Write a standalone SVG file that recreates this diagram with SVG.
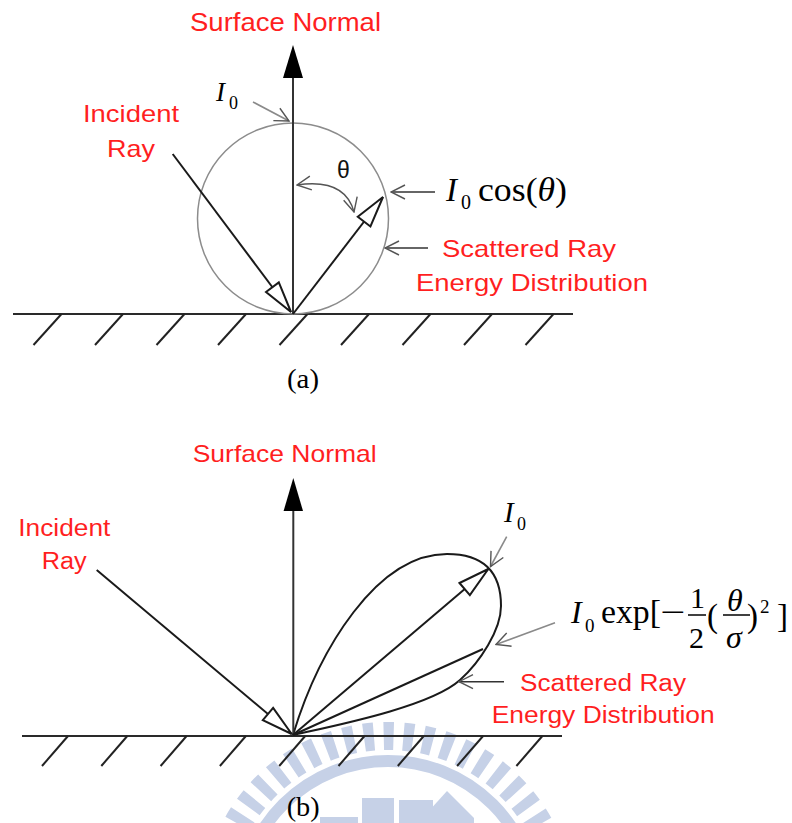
<svg xmlns="http://www.w3.org/2000/svg" width="792" height="823" viewBox="0 0 792 823">
<style>
.lbl{font-family:"Liberation Sans",Arial,sans-serif;fill:#ff1f1f}
.math{font-family:"Liberation Serif","Times New Roman",serif;fill:#000}
.it{font-style:italic}
.ray{stroke:#1a1a1a;stroke-width:2;fill:none}
.norm{stroke:#333;stroke-width:2;fill:none}
.ground{stroke:#2a2a2a;stroke-width:2;fill:none}
.hatch{stroke:#222;stroke-width:2}
.ptr{stroke:#333;stroke-width:1.6;fill:none}
.ptrg{stroke:#8a8a8a;stroke-width:1.6;fill:none}
.wm{fill:none;stroke:#c6d1e7}
</style>
<defs>
<marker id="open" viewBox="0 0 16 16" refX="15" refY="8" markerWidth="16" markerHeight="16" markerUnits="userSpaceOnUse" orient="auto-start-reverse">
<path d="M1,1 L15,8 L1,15" fill="none" stroke="#555" stroke-width="1.4"/>
</marker>
<marker id="hollow" viewBox="0 0 36 20" refX="34" refY="10" markerWidth="36" markerHeight="20" markerUnits="userSpaceOnUse" orient="auto">
<path d="M3,2 L34,10 L3,18 Z" fill="#fff" stroke="#1a1a1a" stroke-width="2" stroke-linejoin="miter"/>
</marker>
</defs>

<g id="watermark">
<circle class="wm" cx="388" cy="909" r="173" stroke-width="28" stroke-dasharray="10 9.77"/>
<circle class="wm" cx="388" cy="909" r="148" stroke-width="12"/>
<rect x="362" y="798" width="32" height="25" fill="#c6d1e7"/>
<rect x="399" y="800" width="34" height="23" fill="#c6d1e7"/>
<polygon points="428,812 447,791 474,818 474,823 432,823" fill="#c6d1e7"/>
<rect x="320" y="817" width="38" height="6" fill="#c6d1e7"/>
</g>

<g id="part-a">
<g id="a-surface">
<line class="ground" x1="13" y1="314" x2="573" y2="314"/>
<g class="hatch">
<line x1="61.5" y1="314" x2="33.5" y2="345"/>
<line x1="123" y1="314" x2="95" y2="345"/>
<line x1="184.5" y1="314" x2="156.5" y2="345"/>
<line x1="246" y1="314" x2="218" y2="345"/>
<line x1="307.5" y1="314" x2="279.5" y2="345"/>
<line x1="369" y1="314" x2="341" y2="345"/>
<line x1="430.5" y1="314" x2="402.5" y2="345"/>
<line x1="492" y1="314" x2="464" y2="345"/>
<line x1="553.5" y1="314" x2="525.5" y2="345"/>
</g>
</g>
<g id="a-distribution">
<circle cx="293" cy="218.5" r="95.5" fill="none" stroke="#8c8c8c" stroke-width="1.5"/>
</g>
<g id="a-connectors">
<line class="norm" x1="293" y1="314" x2="293" y2="76"/>
<polygon points="293,45 303,78 283,78" fill="#000"/>
<line class="ray" x1="172.7" y1="154" x2="291" y2="312" marker-end="url(#hollow)"/>
<line class="ray" x1="293" y1="314" x2="383" y2="197" marker-end="url(#hollow)"/>
<path d="M297,185 Q345,178 354,212" fill="none" stroke="#555" stroke-width="1.4" marker-start="url(#open)" marker-end="url(#open)"/>
<line class="ptrg" x1="253" y1="102" x2="289" y2="121" marker-end="url(#open)"/>
<line class="ptr" x1="435" y1="192" x2="391" y2="192" marker-end="url(#open)"/>
<line class="ptr" x1="428" y1="248" x2="385" y2="248" marker-end="url(#open)"/>
</g>
<g id="a-labels">
<text class="lbl" x="190" y="31" font-size="25" textLength="191" lengthAdjust="spacingAndGlyphs">Surface Normal</text>
<text class="lbl" x="83" y="122" font-size="24" textLength="96" lengthAdjust="spacingAndGlyphs">Incident</text>
<text class="lbl" x="107" y="157" font-size="24" textLength="48" lengthAdjust="spacingAndGlyphs">Ray</text>
<text class="lbl" x="442" y="257" font-size="24" textLength="174" lengthAdjust="spacingAndGlyphs">Scattered Ray</text>
<text class="lbl" x="416" y="291" font-size="24" textLength="232" lengthAdjust="spacingAndGlyphs">Energy Distribution</text>
<text x="337" y="178" font-size="23" font-family="Liberation Sans,Arial,sans-serif" fill="#111">θ</text>
<text class="math it" x="216" y="101" font-size="27">I</text>
<text class="math" x="229" y="109" font-size="18">0</text>
<text class="math it" x="446" y="201" font-size="33">I</text>
<text class="math" x="461" y="209" font-size="20">0</text>
<text class="math" x="478" y="201" font-size="34" textLength="89" lengthAdjust="spacingAndGlyphs">cos(<tspan class="it">θ</tspan>)</text>
<text class="math" x="287" y="388" font-size="28" textLength="32" lengthAdjust="spacingAndGlyphs">(a)</text>
</g>
</g>

<g id="part-b">
<g id="b-surface">
<line class="ground" x1="22" y1="736" x2="562" y2="736"/>
<g class="hatch">
<line x1="68" y1="736" x2="42" y2="766"/>
<line x1="127.3" y1="736" x2="101.3" y2="766"/>
<line x1="186.6" y1="736" x2="160.6" y2="766"/>
<line x1="245.9" y1="736" x2="219.9" y2="766"/>
<line x1="305.2" y1="736" x2="279.2" y2="766"/>
<line x1="364.5" y1="736" x2="338.5" y2="766"/>
<line x1="423.8" y1="736" x2="397.8" y2="766"/>
<line x1="483.1" y1="736" x2="457.1" y2="766"/>
<line x1="542.4" y1="736" x2="516.4" y2="766"/>
</g>
</g>
<g id="b-distribution">
<path d="M293,735 C319,649 377,554 447,554 C482,554 501,571 501,606 C501,630 480,662 460,680 C430,707 333,726 293,735 Z" fill="none" stroke="#1a1a1a" stroke-width="2"/>
</g>
<g id="b-connectors">
<line class="norm" x1="293.3" y1="736" x2="293.3" y2="509"/>
<polygon points="293.3,478 303,511 283.6,511" fill="#000"/>
<line class="ray" x1="96.7" y1="570" x2="291.7" y2="734" marker-end="url(#hollow)"/>
<line class="ray" x1="293" y1="735" x2="488.3" y2="569" marker-end="url(#hollow)"/>
<line class="ray" x1="293" y1="735" x2="483" y2="649"/>
<line class="ptrg" x1="506.7" y1="536.7" x2="490.5" y2="566.5" marker-end="url(#open)"/>
<line class="ptrg" x1="555" y1="622.7" x2="496" y2="644.5" marker-end="url(#open)"/>
<line class="ptr" x1="504" y1="681.7" x2="459" y2="681.7" marker-end="url(#open)"/>
</g>
<g id="b-labels">
<text class="lbl" x="192.7" y="462" font-size="24" textLength="184" lengthAdjust="spacingAndGlyphs">Surface Normal</text>
<text class="lbl" x="18.3" y="536" font-size="23" textLength="92" lengthAdjust="spacingAndGlyphs">Incident</text>
<text class="lbl" x="41.7" y="569" font-size="23" textLength="45" lengthAdjust="spacingAndGlyphs">Ray</text>
<text class="lbl" x="520" y="691" font-size="23" textLength="166" lengthAdjust="spacingAndGlyphs">Scattered Ray</text>
<text class="lbl" x="491.7" y="723" font-size="23" textLength="223" lengthAdjust="spacingAndGlyphs">Energy Distribution</text>
<text class="math it" x="504" y="522" font-size="29">I</text>
<text class="math" x="517" y="530" font-size="18">0</text>
<text class="math it" x="571" y="623" font-size="32">I</text>
<text class="math" x="585" y="632" font-size="19">0</text>
<text class="math" x="601" y="623" font-size="33" textLength="60" lengthAdjust="spacingAndGlyphs">exp[</text>
<text class="math" x="660" y="623" font-size="32" textLength="25" lengthAdjust="spacingAndGlyphs">−</text>
<text class="math" x="690" y="608" font-size="30">1</text>
<line x1="688" y1="615" x2="706" y2="615" stroke="#000" stroke-width="1.5"/>
<text class="math" x="689" y="648" font-size="30">2</text>
<text class="math" x="707" y="627" font-size="33">(</text>
<text class="math it" x="727" y="611" font-size="32">θ</text>
<line x1="723" y1="615" x2="750" y2="615" stroke="#000" stroke-width="1.5"/>
<text class="math it" x="726" y="648" font-size="32">σ</text>
<text class="math" x="747" y="627" font-size="33">)</text>
<text class="math" x="760" y="613" font-size="19">2</text>
<text class="math" x="777" y="627" font-size="33">]</text>
<text class="math" x="286.7" y="816" font-size="28" textLength="33" lengthAdjust="spacingAndGlyphs">(b)</text>
</g>
</g>
</svg>
